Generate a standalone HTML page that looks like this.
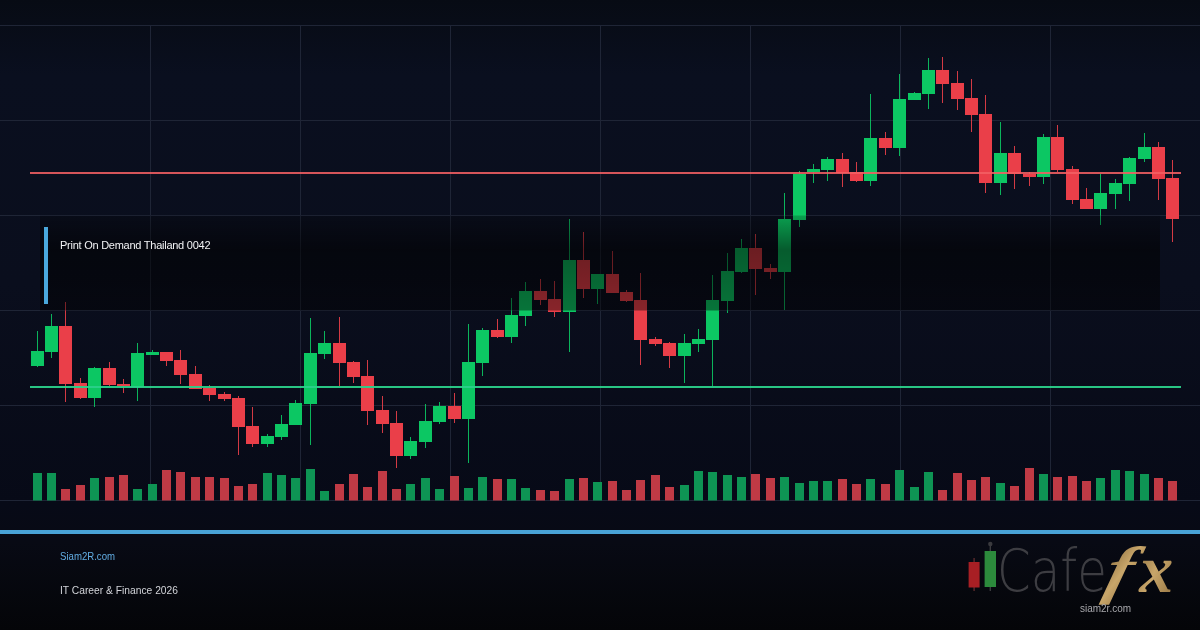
<!DOCTYPE html>
<html lang="th"><head><meta charset="utf-8"><title>Print On Demand Thailand 0042</title>
<style>html,body{margin:0;padding:0;background:#070a14;}body{width:1200px;height:630px;overflow:hidden;position:relative;font-family:"Liberation Sans",sans-serif;}</style>
</head><body>
<svg width="1200" height="630" viewBox="0 0 1200 630" style="position:absolute;left:0;top:0;will-change:transform">
<defs>
<linearGradient id="bgg" x1="0" y1="0" x2="0" y2="1">
<stop offset="0" stop-color="#070b14"/>
<stop offset="0.12" stop-color="#0a0f1f"/>
<stop offset="0.45" stop-color="#0a0e1d"/>
<stop offset="0.8" stop-color="#070a17"/>
<stop offset="0.86" stop-color="#080a14"/>
<stop offset="1" stop-color="#040508"/>
</linearGradient>
<linearGradient id="boxg" x1="0" y1="0" x2="0" y2="1">
<stop offset="0" stop-color="#000" stop-opacity="0.2"/>
<stop offset="0.36" stop-color="#000" stop-opacity="0.54"/>
<stop offset="1" stop-color="#000" stop-opacity="0.42"/>
</linearGradient>
<linearGradient id="gold" x1="0" y1="0" x2="1" y2="1">
<stop offset="0" stop-color="#7d5f35"/>
<stop offset="0.5" stop-color="#c8a66a"/>
<stop offset="1" stop-color="#8d6c3c"/>
</linearGradient>
</defs>
<rect width="1200" height="630" fill="url(#bgg)"/>
<g fill="#1f2536"><rect x="0" y="25" width="1200" height="1"/><rect x="0" y="120" width="1200" height="1"/><rect x="0" y="215" width="1200" height="1"/><rect x="0" y="310" width="1200" height="1"/><rect x="0" y="405" width="1200" height="1"/><rect x="0" y="500" width="1200" height="1"/><rect x="150" y="25" width="1" height="476"/><rect x="300" y="25" width="1" height="476"/><rect x="450" y="25" width="1" height="476"/><rect x="600" y="25" width="1" height="476"/><rect x="750" y="25" width="1" height="476"/><rect x="900" y="25" width="1" height="476"/><rect x="1050" y="25" width="1" height="476"/></g>
<g fill="#0e9454"><rect x="33" y="473" width="9" height="27.5"/><rect x="47" y="473" width="9" height="27.5"/><rect x="90" y="478" width="9" height="22.5"/><rect x="133" y="489" width="9" height="11.5"/><rect x="148" y="484" width="9" height="16.5"/><rect x="263" y="473" width="9" height="27.5"/><rect x="277" y="475" width="9" height="25.5"/><rect x="291" y="478" width="9" height="22.5"/><rect x="306" y="469" width="9" height="31.5"/><rect x="320" y="491" width="9" height="9.5"/><rect x="406" y="484" width="9" height="16.5"/><rect x="421" y="478" width="9" height="22.5"/><rect x="435" y="489" width="9" height="11.5"/><rect x="464" y="488" width="9" height="12.5"/><rect x="478" y="477" width="9" height="23.5"/><rect x="507" y="479" width="9" height="21.5"/><rect x="521" y="488" width="9" height="12.5"/><rect x="565" y="479" width="9" height="21.5"/><rect x="593" y="482" width="9" height="18.5"/><rect x="680" y="485" width="9" height="15.5"/><rect x="694" y="471" width="9" height="29.5"/><rect x="708" y="472" width="9" height="28.5"/><rect x="723" y="475" width="9" height="25.5"/><rect x="737" y="477" width="9" height="23.5"/><rect x="780" y="477" width="9" height="23.5"/><rect x="795" y="483" width="9" height="17.5"/><rect x="809" y="481" width="9" height="19.5"/><rect x="823" y="481" width="9" height="19.5"/><rect x="866" y="479" width="9" height="21.5"/><rect x="895" y="470" width="9" height="30.5"/><rect x="910" y="487" width="9" height="13.5"/><rect x="924" y="472" width="9" height="28.5"/><rect x="996" y="483" width="9" height="17.5"/><rect x="1039" y="474" width="9" height="26.5"/><rect x="1096" y="478" width="9" height="22.5"/><rect x="1111" y="470" width="9" height="30.5"/><rect x="1125" y="471" width="9" height="29.5"/><rect x="1140" y="474" width="9" height="26.5"/></g>
<g fill="#c03a45"><rect x="61" y="489" width="9" height="11.5"/><rect x="76" y="485" width="9" height="15.5"/><rect x="105" y="477" width="9" height="23.5"/><rect x="119" y="475" width="9" height="25.5"/><rect x="162" y="470" width="9" height="30.5"/><rect x="176" y="472" width="9" height="28.5"/><rect x="191" y="477" width="9" height="23.5"/><rect x="205" y="477" width="9" height="23.5"/><rect x="220" y="478" width="9" height="22.5"/><rect x="234" y="486" width="9" height="14.5"/><rect x="248" y="484" width="9" height="16.5"/><rect x="335" y="484" width="9" height="16.5"/><rect x="349" y="474" width="9" height="26.5"/><rect x="363" y="487" width="9" height="13.5"/><rect x="378" y="471" width="9" height="29.5"/><rect x="392" y="489" width="9" height="11.5"/><rect x="450" y="476" width="9" height="24.5"/><rect x="493" y="479" width="9" height="21.5"/><rect x="536" y="490" width="9" height="10.5"/><rect x="550" y="491" width="9" height="9.5"/><rect x="579" y="478" width="9" height="22.5"/><rect x="608" y="481" width="9" height="19.5"/><rect x="622" y="490" width="9" height="10.5"/><rect x="636" y="480" width="9" height="20.5"/><rect x="651" y="475" width="9" height="25.5"/><rect x="665" y="487" width="9" height="13.5"/><rect x="751" y="474" width="9" height="26.5"/><rect x="766" y="478" width="9" height="22.5"/><rect x="838" y="479" width="9" height="21.5"/><rect x="852" y="484" width="9" height="16.5"/><rect x="881" y="484" width="9" height="16.5"/><rect x="938" y="490" width="9" height="10.5"/><rect x="953" y="473" width="9" height="27.5"/><rect x="967" y="480" width="9" height="20.5"/><rect x="981" y="477" width="9" height="23.5"/><rect x="1010" y="486" width="9" height="14.5"/><rect x="1025" y="468" width="9" height="32.5"/><rect x="1053" y="477" width="9" height="23.5"/><rect x="1068" y="476" width="9" height="24.5"/><rect x="1082" y="481" width="9" height="19.5"/><rect x="1154" y="478" width="9" height="22.5"/><rect x="1168" y="481" width="9" height="19.5"/></g>
<g fill="#0cc763" opacity="0.9"><rect x="37" y="331" width="1" height="36"/><rect x="51" y="314" width="1" height="44"/><rect x="94" y="367" width="1" height="40"/><rect x="137" y="343" width="1" height="58"/><rect x="152" y="350" width="1" height="5"/><rect x="267" y="434" width="1" height="13"/><rect x="281" y="415" width="1" height="25"/><rect x="295" y="400" width="1" height="25"/><rect x="310" y="318" width="1" height="127"/><rect x="324" y="331" width="1" height="28"/><rect x="410" y="437" width="1" height="22"/><rect x="425" y="404" width="1" height="44"/><rect x="439" y="402" width="1" height="22"/><rect x="468" y="324" width="1" height="139"/><rect x="482" y="328" width="1" height="48"/><rect x="511" y="298" width="1" height="45"/><rect x="525" y="282" width="1" height="44"/><rect x="569" y="219" width="1" height="133"/><rect x="597" y="274" width="1" height="30"/><rect x="684" y="334" width="1" height="49"/><rect x="698" y="329" width="1" height="23"/><rect x="712" y="275" width="1" height="111"/><rect x="727" y="253" width="1" height="60"/><rect x="741" y="239" width="1" height="34"/><rect x="784" y="193" width="1" height="117"/><rect x="799" y="171" width="1" height="56"/><rect x="813" y="164" width="1" height="19"/><rect x="827" y="157" width="1" height="24"/><rect x="870" y="94" width="1" height="92"/><rect x="899" y="74" width="1" height="82"/><rect x="914" y="92" width="1" height="8"/><rect x="928" y="58" width="1" height="51"/><rect x="1000" y="122" width="1" height="73"/><rect x="1043" y="134" width="1" height="50"/><rect x="1100" y="174" width="1" height="51"/><rect x="1115" y="179" width="1" height="30"/><rect x="1129" y="157" width="1" height="44"/><rect x="1144" y="133" width="1" height="29"/></g>
<g fill="#ea3f49" opacity="0.9"><rect x="65" y="302" width="1" height="100"/><rect x="80" y="378" width="1" height="21"/><rect x="109" y="362" width="1" height="24"/><rect x="123" y="379" width="1" height="14"/><rect x="166" y="352" width="1" height="14"/><rect x="180" y="350" width="1" height="34"/><rect x="195" y="366" width="1" height="23"/><rect x="209" y="385" width="1" height="16"/><rect x="224" y="392" width="1" height="9"/><rect x="238" y="396" width="1" height="59"/><rect x="252" y="407" width="1" height="40"/><rect x="339" y="317" width="1" height="69"/><rect x="353" y="361" width="1" height="22"/><rect x="367" y="360" width="1" height="65"/><rect x="382" y="396" width="1" height="37"/><rect x="396" y="411" width="1" height="57"/><rect x="454" y="393" width="1" height="30"/><rect x="497" y="319" width="1" height="19"/><rect x="540" y="279" width="1" height="26"/><rect x="554" y="281" width="1" height="36"/><rect x="583" y="232" width="1" height="66"/><rect x="612" y="251" width="1" height="42"/><rect x="626" y="290" width="1" height="12"/><rect x="640" y="273" width="1" height="92"/><rect x="655" y="337" width="1" height="9"/><rect x="669" y="342" width="1" height="26"/><rect x="755" y="234" width="1" height="61"/><rect x="770" y="264" width="1" height="15"/><rect x="842" y="153" width="1" height="34"/><rect x="856" y="162" width="1" height="20"/><rect x="885" y="132" width="1" height="23"/><rect x="942" y="57" width="1" height="46"/><rect x="957" y="71" width="1" height="39"/><rect x="971" y="79" width="1" height="53"/><rect x="985" y="95" width="1" height="98"/><rect x="1014" y="146" width="1" height="43"/><rect x="1029" y="172" width="1" height="14"/><rect x="1057" y="125" width="1" height="47"/><rect x="1072" y="166" width="1" height="38"/><rect x="1086" y="188" width="1" height="21"/><rect x="1158" y="142" width="1" height="58"/><rect x="1172" y="160" width="1" height="82"/></g>
<g fill="#0cc763"><rect x="31" y="351" width="13" height="15"/><rect x="45" y="326" width="13" height="26"/><rect x="88" y="368" width="13" height="30"/><rect x="131" y="353" width="13" height="34"/><rect x="146" y="352" width="13" height="3"/><rect x="261" y="436" width="13" height="8"/><rect x="275" y="424" width="13" height="13"/><rect x="289" y="403" width="13" height="22"/><rect x="304" y="353" width="13" height="51"/><rect x="318" y="343" width="13" height="11"/><rect x="404" y="441" width="13" height="15"/><rect x="419" y="421" width="13" height="21"/><rect x="433" y="406" width="13" height="16"/><rect x="462" y="362" width="13" height="57"/><rect x="476" y="330" width="13" height="33"/><rect x="505" y="315" width="13" height="22"/><rect x="519" y="291" width="13" height="25"/><rect x="563" y="260" width="13" height="52"/><rect x="591" y="274" width="13" height="15"/><rect x="678" y="343" width="13" height="13"/><rect x="692" y="339" width="13" height="5"/><rect x="706" y="300" width="13" height="40"/><rect x="721" y="271" width="13" height="30"/><rect x="735" y="248" width="13" height="24"/><rect x="778" y="219" width="13" height="53"/><rect x="793" y="174" width="13" height="46"/><rect x="807" y="169" width="13" height="3"/><rect x="821" y="159" width="13" height="11"/><rect x="864" y="138" width="13" height="43"/><rect x="893" y="99" width="13" height="49"/><rect x="908" y="93" width="13" height="7"/><rect x="922" y="70" width="13" height="24"/><rect x="994" y="153" width="13" height="30"/><rect x="1037" y="137" width="13" height="40"/><rect x="1094" y="193" width="13" height="16"/><rect x="1109" y="183" width="13" height="11"/><rect x="1123" y="158" width="13" height="26"/><rect x="1138" y="147" width="13" height="12"/></g>
<g fill="#ea3f49"><rect x="59" y="326" width="13" height="58"/><rect x="74" y="383" width="13" height="15"/><rect x="103" y="368" width="13" height="17"/><rect x="117" y="384" width="13" height="2"/><rect x="160" y="352" width="13" height="9"/><rect x="174" y="360" width="13" height="15"/><rect x="189" y="374" width="13" height="15"/><rect x="203" y="388" width="13" height="7"/><rect x="218" y="394" width="13" height="5"/><rect x="232" y="398" width="13" height="29"/><rect x="246" y="426" width="13" height="18"/><rect x="333" y="343" width="13" height="20"/><rect x="347" y="362" width="13" height="15"/><rect x="361" y="376" width="13" height="35"/><rect x="376" y="410" width="13" height="14"/><rect x="390" y="423" width="13" height="33"/><rect x="448" y="406" width="13" height="13"/><rect x="491" y="330" width="13" height="7"/><rect x="534" y="291" width="13" height="9"/><rect x="548" y="299" width="13" height="13"/><rect x="577" y="260" width="13" height="29"/><rect x="606" y="274" width="13" height="19"/><rect x="620" y="292" width="13" height="9"/><rect x="634" y="300" width="13" height="40"/><rect x="649" y="339" width="13" height="5"/><rect x="663" y="343" width="13" height="13"/><rect x="749" y="248" width="13" height="21"/><rect x="764" y="268" width="13" height="4"/><rect x="836" y="159" width="13" height="14"/><rect x="850" y="172" width="13" height="9"/><rect x="879" y="138" width="13" height="10"/><rect x="936" y="70" width="13" height="14"/><rect x="951" y="83" width="13" height="16"/><rect x="965" y="98" width="13" height="17"/><rect x="979" y="114" width="13" height="69"/><rect x="1008" y="153" width="13" height="21"/><rect x="1023" y="174" width="13" height="3"/><rect x="1051" y="137" width="13" height="33"/><rect x="1066" y="169" width="13" height="31"/><rect x="1080" y="199" width="13" height="10"/><rect x="1152" y="147" width="13" height="32"/><rect x="1166" y="178" width="13" height="41"/></g>
<rect x="30" y="172" width="1151" height="2" fill="#f26063" opacity="0.88"/>
<rect x="30" y="386" width="1151" height="2" fill="#2bd08a" opacity="0.95"/>
<rect x="40" y="215.5" width="1120" height="95" fill="url(#boxg)"/>
<rect x="44" y="227" width="4" height="77" fill="#4aa8dc"/>
<rect x="0" y="530" width="1200" height="4" fill="#49a3d7"/>
<g>
<rect x="973.4" y="558" width="1.4" height="33" fill="#5a2a2c"/>
<rect x="968.6" y="562" width="11" height="25.5" fill="#a81f24"/>
<rect x="989.6" y="546" width="1.4" height="45" fill="#3a3a3e"/>
<circle cx="990.3" cy="544" r="2.2" fill="#3a3a3e"/>
<rect x="984.6" y="551" width="11.4" height="36" fill="#2c8a3c"/>
</g>
<text x="997" y="590.5" font-family="'DejaVu Sans Light','DejaVu Sans','Liberation Sans',sans-serif" font-weight="200" font-size="58" fill="#3d3d42" textLength="110" lengthAdjust="spacingAndGlyphs">Cafe</text>
<text transform="translate(1102 590.5) skewX(-14) scale(1.25 1)" font-family="'Liberation Serif',serif" font-weight="bold" font-style="italic" font-size="64" fill="url(#gold)">f</text>
<text transform="translate(1139.2 592)" font-family="'Liberation Serif',serif" font-weight="bold" font-style="italic" font-size="68" fill="url(#gold)">x</text>
<text x="1080" y="612" font-family="'Liberation Sans',sans-serif" font-size="10.5" fill="#a8a8ac" textLength="51" lengthAdjust="spacingAndGlyphs">siam2r.com</text>
<text x="60" y="249" font-family="'Liberation Sans',sans-serif" font-size="11" fill="#f2f3f5" textLength="150.5" lengthAdjust="spacing">Print On Demand Thailand 0042</text>
<text x="60" y="560" font-family="'Liberation Sans',sans-serif" font-size="10.5" fill="#62ade3" textLength="55" lengthAdjust="spacingAndGlyphs">Siam2R.com</text>
<text x="60" y="594" font-family="'Liberation Sans',sans-serif" font-size="10.5" fill="#d2d4d9" textLength="118" lengthAdjust="spacingAndGlyphs">IT Career &amp; Finance 2026</text>
</svg>
</body></html>
